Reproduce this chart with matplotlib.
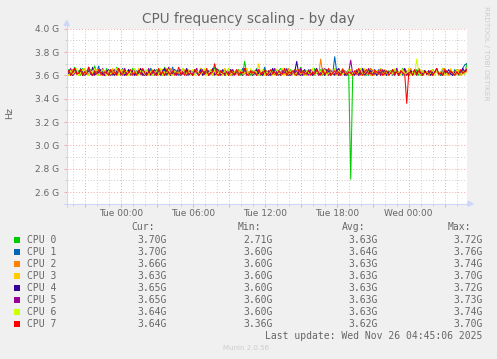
import matplotlib
matplotlib.use('Agg')
import matplotlib.pyplot as plt
import numpy as np
from matplotlib.patches import Rectangle, Polygon
from matplotlib.lines import Line2D

W, H = 497, 359

# CPU frequency in GHz, one sample every 10 minutes, Mon 19:30 -> Wed 04:50
cpu0 = [3.62, 3.65, 3.60, 3.63, 3.67, 3.61, 3.64, 3.60, 3.66, 3.62, 3.63, 3.60, 3.65, 3.61, 3.68, 3.62, 3.60, 3.64, 3.63, 3.61,
        3.66, 3.60, 3.62, 3.64, 3.61, 3.67, 3.63, 3.60, 3.65, 3.62, 3.61, 3.64, 3.60, 3.66, 3.62, 3.63, 3.61, 3.65, 3.60, 3.63,
        3.64, 3.61, 3.66, 3.60, 3.62, 3.65, 3.63, 3.61, 3.60, 3.67, 3.62, 3.64, 3.60, 3.63, 3.65, 3.61, 3.62, 3.60, 3.66, 3.63,
        3.61, 3.64, 3.62, 3.60, 3.65, 3.63, 3.61, 3.66, 3.60, 3.62, 3.64, 3.61, 3.63, 3.60, 3.67, 3.62, 3.65, 3.60, 3.63, 3.61,
        3.62, 3.66, 3.60, 3.64, 3.61, 3.63, 3.65, 3.60, 3.62, 3.72, 3.61, 3.63, 3.60, 3.64, 3.62, 3.66, 3.61, 3.60, 3.63, 3.65,
        3.60, 3.63, 3.61, 3.65, 3.62, 3.60, 3.64, 3.66, 3.61, 3.63, 3.60, 3.62, 3.65, 3.61, 3.64, 3.60, 3.63, 3.67, 3.62, 3.60,
        3.64, 3.61, 3.63, 3.60, 3.66, 3.62, 3.61, 3.65, 3.60, 3.63, 3.62, 3.64, 3.60, 3.61, 3.66, 3.63, 3.60, 3.62, 3.65, 3.61,
        3.63, 3.60, 2.71, 3.62, 3.61, 3.64, 3.60, 3.66, 3.62, 3.63, 3.60, 3.65, 3.61, 3.62, 3.64, 3.60, 3.63, 3.66, 3.61, 3.62,
        3.60, 3.64, 3.62, 3.61, 3.65, 3.63, 3.60, 3.62, 3.66, 3.61, 3.63, 3.60, 3.64, 3.62, 3.61, 3.65, 3.60, 3.63, 3.62, 3.64,
        3.61, 3.63, 3.60, 3.65, 3.62, 3.64, 3.61, 3.60, 3.66, 3.63, 3.62, 3.60, 3.64, 3.61, 3.63, 3.65, 3.60, 3.62, 3.64, 3.61,
        3.70]
cpu1 = [3.61, 3.64, 3.62, 3.60, 3.65, 3.63, 3.61, 3.66, 3.60, 3.62, 3.64, 3.61, 3.63, 3.60, 3.65, 3.62, 3.68, 3.61, 3.63, 3.60,
        3.63, 3.61, 3.65, 3.60, 3.62, 3.64, 3.61, 3.63, 3.66, 3.60, 3.62, 3.65, 3.61, 3.63, 3.60, 3.64, 3.62, 3.61, 3.65, 3.63,
        3.60, 3.62, 3.66, 3.61, 3.63, 3.60, 3.64, 3.62, 3.61, 3.65, 3.60, 3.63, 3.62, 3.67, 3.61, 3.64, 3.60, 3.62, 3.63, 3.61,
        3.65, 3.60, 3.62, 3.64, 3.61, 3.63, 3.60, 3.66, 3.62, 3.61, 3.64, 3.60, 3.63, 3.65, 3.61, 3.62, 3.60, 3.64, 3.61, 3.63,
        3.62, 3.60, 3.65, 3.61, 3.63, 3.64, 3.60, 3.62, 3.66, 3.61, 3.63, 3.60, 3.64, 3.62, 3.61, 3.65, 3.60, 3.63, 3.62, 3.67,
        3.61, 3.64, 3.60, 3.62, 3.65, 3.61, 3.63, 3.60, 3.64, 3.62, 3.66, 3.61, 3.60, 3.63, 3.65, 3.62, 3.61, 3.64, 3.60, 3.63,
        3.62, 3.65, 3.61, 3.63, 3.60, 3.64, 3.62, 3.61, 3.66, 3.60, 3.63, 3.62, 3.64, 3.61, 3.76, 3.63, 3.60, 3.62, 3.65, 3.61,
        3.60, 3.63, 3.64, 3.61, 3.62, 3.65, 3.60, 3.63, 3.61, 3.64, 3.62, 3.60, 3.66, 3.61, 3.63, 3.62, 3.65, 3.60, 3.64, 3.62,
        3.63, 3.61, 3.64, 3.60, 3.62, 3.66, 3.61, 3.63, 3.60, 3.65, 3.62, 3.61, 3.64, 3.60, 3.63, 3.62, 3.65, 3.61, 3.60, 3.64,
        3.62, 3.60, 3.63, 3.65, 3.61, 3.64, 3.62, 3.60, 3.66, 3.61, 3.63, 3.62, 3.64, 3.60, 3.65, 3.61, 3.63, 3.62, 3.66, 3.69,
        3.70]
cpu2 = [3.63, 3.60, 3.62, 3.65, 3.61, 3.64, 3.60, 3.63, 3.62, 3.66, 3.61, 3.60, 3.64, 3.62, 3.63, 3.61, 3.65, 3.60, 3.62, 3.64,
        3.61, 3.63, 3.60, 3.66, 3.62, 3.61, 3.64, 3.60, 3.63, 3.65, 3.61, 3.62, 3.60, 3.64, 3.63, 3.61, 3.66, 3.62, 3.60, 3.63,
        3.62, 3.65, 3.61, 3.60, 3.63, 3.64, 3.62, 3.61, 3.65, 3.60, 3.63, 3.62, 3.66, 3.61, 3.64, 3.60, 3.62, 3.63, 3.61, 3.65,
        3.60, 3.62, 3.64, 3.61, 3.63, 3.66, 3.60, 3.62, 3.61, 3.64, 3.63, 3.60, 3.65, 3.62, 3.61, 3.63, 3.60, 3.64, 3.62, 3.66,
        3.61, 3.63, 3.60, 3.65, 3.62, 3.61, 3.64, 3.63, 3.60, 3.62, 3.66, 3.61, 3.63, 3.60, 3.64, 3.62, 3.65, 3.61, 3.60, 3.63,
        3.64, 3.60, 3.62, 3.63, 3.61, 3.65, 3.62, 3.60, 3.64, 3.61, 3.63, 3.66, 3.60, 3.62, 3.65, 3.61, 3.63, 3.60, 3.64, 3.62,
        3.60, 3.63, 3.65, 3.61, 3.62, 3.64, 3.60, 3.74, 3.61, 3.63, 3.62, 3.60, 3.65, 3.61, 3.64, 3.62, 3.60, 3.63, 3.66, 3.61,
        3.62, 3.64, 3.60, 3.63, 3.61, 3.65, 3.62, 3.60, 3.64, 3.63, 3.61, 3.62, 3.66, 3.60, 3.63, 3.61, 3.64, 3.62, 3.60, 3.65,
        3.61, 3.63, 3.62, 3.64, 3.60, 3.65, 3.61, 3.63, 3.62, 3.60, 3.64, 3.61, 3.66, 3.62, 3.63, 3.60, 3.65, 3.61, 3.62, 3.64,
        3.63, 3.60, 3.62, 3.65, 3.61, 3.64, 3.60, 3.63, 3.62, 3.66, 3.61, 3.60, 3.64, 3.62, 3.63, 3.61, 3.65, 3.60, 3.62, 3.64,
        3.66]
cpu3 = [3.60, 3.62, 3.64, 3.61, 3.63, 3.65, 3.60, 3.62, 3.61, 3.66, 3.63, 3.60, 3.64, 3.62, 3.61, 3.65, 3.63, 3.60, 3.62, 3.64,
        3.62, 3.61, 3.63, 3.66, 3.60, 3.64, 3.62, 3.61, 3.65, 3.63, 3.60, 3.62, 3.64, 3.61, 3.63, 3.60, 3.66, 3.62, 3.61, 3.63,
        3.64, 3.60, 3.62, 3.65, 3.61, 3.63, 3.60, 3.64, 3.62, 3.61, 3.66, 3.60, 3.63, 3.62, 3.65, 3.61, 3.64, 3.60, 3.63, 3.62,
        3.61, 3.65, 3.63, 3.60, 3.62, 3.64, 3.61, 3.66, 3.60, 3.63, 3.62, 3.61, 3.65, 3.60, 3.64, 3.62, 3.63, 3.61, 3.60, 3.66,
        3.63, 3.61, 3.60, 3.64, 3.62, 3.65, 3.61, 3.63, 3.60, 3.62, 3.66, 3.61, 3.64, 3.60, 3.63, 3.62, 3.70, 3.61, 3.63, 3.60,
        3.62, 3.64, 3.61, 3.63, 3.60, 3.65, 3.62, 3.61, 3.66, 3.60, 3.63, 3.64, 3.61, 3.62, 3.60, 3.65, 3.63, 3.61, 3.62, 3.64,
        3.60, 3.63, 3.62, 3.66, 3.61, 3.64, 3.60, 3.62, 3.63, 3.61, 3.65, 3.60, 3.64, 3.62, 3.61, 3.63, 3.66, 3.60, 3.62, 3.64,
        3.61, 3.62, 3.65, 3.60, 3.63, 3.61, 3.64, 3.62, 3.60, 3.66, 3.61, 3.63, 3.62, 3.65, 3.60, 3.64, 3.61, 3.63, 3.62, 3.60,
        3.64, 3.61, 3.63, 3.62, 3.60, 3.65, 3.61, 3.64, 3.62, 3.63, 3.60, 3.66, 3.61, 3.62, 3.64, 3.60, 3.63, 3.65, 3.61, 3.62,
        3.63, 3.60, 3.64, 3.61, 3.62, 3.65, 3.60, 3.63, 3.61, 3.64, 3.62, 3.60, 3.66, 3.61, 3.63, 3.62, 3.64, 3.60, 3.61, 3.62,
        3.63]
cpu4 = [3.64, 3.61, 3.63, 3.60, 3.66, 3.62, 3.61, 3.65, 3.63, 3.60, 3.62, 3.64, 3.61, 3.67, 3.60, 3.63, 3.62, 3.65, 3.61, 3.60,
        3.63, 3.65, 3.61, 3.62, 3.60, 3.64, 3.66, 3.61, 3.63, 3.60, 3.62, 3.65, 3.61, 3.64, 3.60, 3.63, 3.62, 3.66, 3.61, 3.60,
        3.62, 3.64, 3.60, 3.63, 3.65, 3.61, 3.62, 3.60, 3.64, 3.66, 3.61, 3.63, 3.60, 3.62, 3.65, 3.61, 3.64, 3.60, 3.63, 3.62,
        3.66, 3.61, 3.63, 3.60, 3.64, 3.62, 3.61, 3.65, 3.60, 3.63, 3.62, 3.64, 3.61, 3.66, 3.60, 3.62, 3.63, 3.61, 3.65, 3.60,
        3.61, 3.63, 3.65, 3.60, 3.62, 3.64, 3.61, 3.63, 3.60, 3.66, 3.62, 3.61, 3.64, 3.60, 3.63, 3.65, 3.61, 3.62, 3.60, 3.64,
        3.63, 3.60, 3.62, 3.66, 3.61, 3.64, 3.60, 3.63, 3.62, 3.65, 3.61, 3.60, 3.64, 3.62, 3.63, 3.72, 3.61, 3.60, 3.63, 3.65,
        3.61, 3.64, 3.62, 3.60, 3.63, 3.66, 3.61, 3.62, 3.64, 3.60, 3.65, 3.63, 3.61, 3.62, 3.60, 3.64, 3.66, 3.61, 3.63, 3.60,
        3.62, 3.65, 3.61, 3.63, 3.60, 3.64, 3.62, 3.61, 3.66, 3.60, 3.63, 3.62, 3.64, 3.61, 3.65, 3.60, 3.63, 3.62, 3.61, 3.64,
        3.60, 3.63, 3.62, 3.65, 3.61, 3.64, 3.60, 3.62, 3.63, 3.66, 3.61, 3.60, 3.64, 3.62, 3.65, 3.61, 3.63, 3.60, 3.62, 3.64,
        3.61, 3.64, 3.60, 3.63, 3.62, 3.66, 3.61, 3.63, 3.60, 3.64, 3.62, 3.65, 3.61, 3.60, 3.63, 3.64, 3.62, 3.61, 3.66, 3.63,
        3.65]
cpu5 = [3.61, 3.63, 3.66, 3.60, 3.62, 3.64, 3.61, 3.65, 3.60, 3.63, 3.62, 3.67, 3.61, 3.60, 3.64, 3.62, 3.63, 3.61, 3.66, 3.60,
        3.64, 3.62, 3.60, 3.63, 3.65, 3.61, 3.62, 3.64, 3.60, 3.66, 3.61, 3.63, 3.62, 3.60, 3.65, 3.61, 3.64, 3.62, 3.60, 3.63,
        3.62, 3.66, 3.61, 3.63, 3.60, 3.64, 3.62, 3.65, 3.61, 3.60, 3.63, 3.67, 3.62, 3.61, 3.64, 3.60, 3.63, 3.65, 3.61, 3.62,
        3.60, 3.63, 3.64, 3.61, 3.62, 3.66, 3.60, 3.63, 3.65, 3.61, 3.62, 3.60, 3.64, 3.62, 3.61, 3.66, 3.63, 3.60, 3.62, 3.64,
        3.63, 3.61, 3.62, 3.65, 3.60, 3.64, 3.61, 3.63, 3.62, 3.66, 3.60, 3.61, 3.64, 3.63, 3.62, 3.60, 3.65, 3.61, 3.63, 3.62,
        3.61, 3.64, 3.60, 3.62, 3.66, 3.61, 3.63, 3.60, 3.64, 3.62, 3.65, 3.61, 3.60, 3.63, 3.62, 3.64, 3.61, 3.66, 3.60, 3.63,
        3.62, 3.60, 3.65, 3.61, 3.63, 3.64, 3.60, 3.62, 3.61, 3.66, 3.63, 3.60, 3.64, 3.62, 3.61, 3.65, 3.60, 3.63, 3.62, 3.64,
        3.60, 3.63, 3.73, 3.61, 3.64, 3.62, 3.60, 3.65, 3.61, 3.63, 3.62, 3.66, 3.60, 3.64, 3.61, 3.62, 3.63, 3.60, 3.65, 3.61,
        3.63, 3.61, 3.64, 3.62, 3.60, 3.66, 3.61, 3.63, 3.62, 3.65, 3.60, 3.64, 3.61, 3.62, 3.63, 3.60, 3.66, 3.61, 3.64, 3.62,
        3.61, 3.64, 3.62, 3.60, 3.63, 3.65, 3.61, 3.62, 3.66, 3.60, 3.64, 3.61, 3.63, 3.62, 3.60, 3.65, 3.61, 3.64, 3.62, 3.63,
        3.65]
cpu6 = [3.62, 3.60, 3.64, 3.61, 3.63, 3.66, 3.60, 3.62, 3.65, 3.61, 3.63, 3.60, 3.64, 3.62, 3.66, 3.61, 3.60, 3.63, 3.65, 3.62,
        3.60, 3.64, 3.61, 3.63, 3.62, 3.66, 3.60, 3.65, 3.61, 3.62, 3.64, 3.60, 3.63, 3.61, 3.66, 3.62, 3.60, 3.64, 3.63, 3.61,
        3.65, 3.61, 3.63, 3.60, 3.62, 3.64, 3.61, 3.66, 3.60, 3.63, 3.62, 3.65, 3.61, 3.60, 3.64, 3.62, 3.63, 3.61, 3.66, 3.60,
        3.62, 3.63, 3.61, 3.65, 3.60, 3.64, 3.62, 3.61, 3.63, 3.66, 3.60, 3.62, 3.64, 3.61, 3.65, 3.60, 3.63, 3.62, 3.61, 3.64,
        3.60, 3.66, 3.62, 3.61, 3.63, 3.64, 3.60, 3.65, 3.61, 3.62, 3.63, 3.60, 3.66, 3.61, 3.64, 3.62, 3.60, 3.63, 3.65, 3.61,
        3.63, 3.61, 3.64, 3.60, 3.62, 3.65, 3.61, 3.63, 3.60, 3.66, 3.62, 3.61, 3.64, 3.63, 3.60, 3.62, 3.65, 3.61, 3.63, 3.60,
        3.64, 3.62, 3.61, 3.66, 3.60, 3.63, 3.62, 3.64, 3.61, 3.65, 3.60, 3.62, 3.63, 3.61, 3.66, 3.60, 3.64, 3.62, 3.61, 3.63,
        3.61, 3.65, 3.60, 3.62, 3.64, 3.61, 3.63, 3.66, 3.60, 3.62, 3.65, 3.61, 3.60, 3.63, 3.64, 3.62, 3.61, 3.66, 3.60, 3.63,
        3.62, 3.60, 3.64, 3.61, 3.66, 3.62, 3.63, 3.60, 3.65, 3.61, 3.62, 3.64, 3.60, 3.63, 3.61, 3.74, 3.62, 3.60, 3.64, 3.61,
        3.63, 3.61, 3.62, 3.65, 3.60, 3.64, 3.61, 3.63, 3.66, 3.60, 3.62, 3.61, 3.64, 3.63, 3.60, 3.65, 3.62, 3.61, 3.63, 3.62,
        3.64]
cpu7 = [3.61, 3.64, 3.60, 3.63, 3.66, 3.61, 3.62, 3.65, 3.60, 3.63, 3.61, 3.67, 3.62, 3.60, 3.64, 3.61, 3.65, 3.62, 3.60, 3.63,
        3.62, 3.60, 3.65, 3.61, 3.63, 3.60, 3.66, 3.62, 3.61, 3.64, 3.60, 3.63, 3.65, 3.61, 3.62, 3.60, 3.64, 3.61, 3.66, 3.62,
        3.60, 3.63, 3.61, 3.64, 3.62, 3.60, 3.66, 3.61, 3.63, 3.60, 3.65, 3.62, 3.61, 3.64, 3.60, 3.62, 3.67, 3.61, 3.63, 3.60,
        3.64, 3.61, 3.62, 3.60, 3.65, 3.63, 3.60, 3.62, 3.64, 3.61, 3.66, 3.60, 3.62, 3.63, 3.70, 3.61, 3.60, 3.64, 3.62, 3.61,
        3.63, 3.60, 3.64, 3.62, 3.61, 3.65, 3.60, 3.63, 3.62, 3.66, 3.61, 3.60, 3.64, 3.62, 3.63, 3.60, 3.65, 3.61, 3.62, 3.64,
        3.60, 3.62, 3.65, 3.61, 3.63, 3.60, 3.64, 3.62, 3.61, 3.66, 3.60, 3.63, 3.62, 3.64, 3.61, 3.60, 3.65, 3.62, 3.63, 3.61,
        3.62, 3.64, 3.60, 3.63, 3.61, 3.65, 3.62, 3.60, 3.64, 3.61, 3.63, 3.66, 3.60, 3.62, 3.64, 3.61, 3.63, 3.60, 3.65, 3.62,
        3.61, 3.63, 3.62, 3.60, 3.64, 3.61, 3.66, 3.62, 3.60, 3.63, 3.65, 3.61, 3.62, 3.60, 3.64, 3.63, 3.61, 3.65, 3.60, 3.62,
        3.64, 3.60, 3.62, 3.65, 3.61, 3.63, 3.60, 3.64, 3.62, 3.61, 3.36, 3.62, 3.63, 3.60, 3.65, 3.61, 3.64, 3.62, 3.60, 3.63,
        3.62, 3.61, 3.64, 3.60, 3.63, 3.66, 3.61, 3.62, 3.60, 3.65, 3.63, 3.61, 3.64, 3.62, 3.60, 3.63, 3.61, 3.65, 3.62, 3.63,
        3.64]

names = ['CPU 0', 'CPU 1', 'CPU 2', 'CPU 3', 'CPU 4', 'CPU 5', 'CPU 6', 'CPU 7']
colors = ['#00CC00', '#0066B3', '#FF8000', '#FFCC00',
          '#330099', '#990099', '#CCFF00', '#FF0000']
cur = ['3.70G', '3.70G', '3.66G', '3.63G', '3.65G', '3.65G', '3.64G', '3.64G']
mins = ['2.71G', '3.60G', '3.60G', '3.60G', '3.60G', '3.60G', '3.60G', '3.36G']
avgs = ['3.63G', '3.64G', '3.63G', '3.63G', '3.63G', '3.63G', '3.63G', '3.62G']
maxs = ['3.72G', '3.76G', '3.74G', '3.70G', '3.72G', '3.73G', '3.74G', '3.70G']

# hours relative to Tue 00:00
xtick_pos = [0, 6, 12, 18, 24]
xtick_lab = ['Tue 00:00', 'Tue 06:00', 'Tue 12:00', 'Tue 18:00', 'Wed 00:00']
ytick_pos = [2.6, 2.8, 3.0, 3.2, 3.4, 3.6, 3.8, 4.0]

series = [cpu0, cpu1, cpu2, cpu3, cpu4, cpu5, cpu6, cpu7]
t = -4.5 + np.arange(len(cpu0)) * (10 / 60)

FONT = '#666666'
AXIS = '#CFD6F8'
MGRID = '#F0A8A8'
GRID = '#CCCCCC'


def fx(px):
    return px / W


def fy(py):
    return 1 - py / H


fig = plt.figure(figsize=(W / 100, H / 100), dpi=100, facecolor='#F0F0F0')
ax = fig.add_axes([fx(66.7), fy(203.7), 400 / W, 175 / H])
ax.set_facecolor('white')
ax.set_xlim(-4.5, 28.83)
ax.set_ylim(2.5, 4.0)

# grid
dots = (0, (1, 2))
for h in range(-4, 29):
    c = MGRID if h % 3 == 0 else GRID
    ax.axvline(h, color=c, lw=0.7, ls=dots, zorder=0.5)
for k in range(26, 41):
    c = MGRID if k % 2 == 0 else GRID
    ax.axhline(k / 10, color=c, lw=0.7, ls=dots, zorder=0.5)

for s, c in zip(series, colors):
    ax.plot(t, s, color=c, lw=0.75, zorder=2)

for sp in ax.spines.values():
    sp.set_visible(False)

ax.set_yticks(ytick_pos)
ax.set_yticklabels(['%.1f G' % v for v in ytick_pos])
ax.set_yticks(np.arange(2.5, 4.01, 0.1), minor=True)
ax.set_xticks(range(-3, 29, 3))
ax.set_xticklabels([xtick_lab[xtick_pos.index(h)] if h in xtick_pos else ''
                    for h in range(-3, 29, 3)])
ax.set_xticks(range(-4, 29), minor=True)
ax.tick_params(which='major', length=2, width=0.7, color=MGRID,
               labelsize=6.5, labelcolor=FONT)
ax.tick_params(which='minor', length=1.5, width=0.7, color=GRID)
ax.tick_params(axis='y', pad=3.3)
ax.tick_params(axis='x', pad=1.8)

# axis lines with arrows
fig.add_artist(Line2D([fx(66.7), fx(66.7)], [fy(206.5), fy(24)], color=AXIS, lw=0.8))
fig.add_artist(Line2D([fx(63.5), fx(469)], [fy(203.7), fy(203.7)], color=AXIS, lw=0.8))
fig.add_artist(Polygon([[fx(64.2), fy(25.5)], [fx(69.2), fy(25.5)], [fx(66.7), fy(20.5)]],
                       closed=True, color=AXIS, transform=fig.transFigure))
fig.add_artist(Polygon([[fx(468), fy(201.2)], [fx(468), fy(206.2)], [fx(473), fy(203.7)]],
                       closed=True, color=AXIS, transform=fig.transFigure))

fig.text(fx(248), fy(19), 'CPU frequency scaling - by day', ha='center', va='center',
         fontsize=9.8, color=FONT)
fig.text(fx(10), fy(113), 'Hz', rotation=90, ha='center', va='center',
         fontsize=6.8, color=FONT)
fig.text(fx(486), fy(53), 'RRDTOOL / TOBI OETIKER', rotation=270, ha='center',
         va='center', fontsize=5.3, color='#CCCCCC')

# legend
mono = dict(family='DejaVu Sans Mono', fontsize=7, color=FONT, va='center')
fig.text(fx(131.7), fy(227), 'Cur:', ha='left', **mono)
fig.text(fx(237.3), fy(227), 'Min:', ha='left', **mono)
fig.text(fx(341.7), fy(227), 'Avg:', ha='left', **mono)
fig.text(fx(447.7), fy(227), 'Max:', ha='left', **mono)
for i in range(len(names)):
    y = 240 + 12 * i
    fig.add_artist(Rectangle((fx(14), fy(y + 3)), 6 / W, 6 / H, facecolor=colors[i],
                             edgecolor='none', transform=fig.transFigure))
    fig.text(fx(26.7), fy(y), names[i], ha='left', **mono)
    fig.text(fx(166.7), fy(y), cur[i], ha='right', **mono)
    fig.text(fx(272.7), fy(y), mins[i], ha='right', **mono)
    fig.text(fx(377.7), fy(y), avgs[i], ha='right', **mono)
    fig.text(fx(482.3), fy(y), maxs[i], ha='right', **mono)
fig.text(fx(482.3), fy(336), 'Last update: Wed Nov 26 04:45:06 2025', ha='right', **mono)
fig.text(fx(246), fy(348), 'Munin 2.0.56', ha='center', va='center',
         fontsize=5, color='#CCCCCC')

fig.savefig('out.png', dpi=100, facecolor=fig.get_facecolor())
